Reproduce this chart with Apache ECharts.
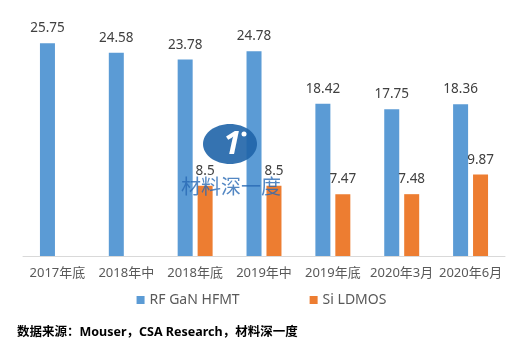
<!DOCTYPE html>
<html>
<head>
<meta charset="utf-8">
<script src="https://cdn.jsdelivr.net/npm/echarts@6/dist/echarts.min.js"></script>
<style>
html,body{margin:0;padding:0;background:#fff;}
#c{width:523px;height:350px;}
</style>
</head>
<body>
<div id="c"></div>
<script>
var categories = ['2017年底','2018年中','2018年底','2019年中','2019年底','2020年3月','2020年6月'];
var gan = [25.75, 24.58, 23.78, 24.78, 18.42, 17.75, 18.36];
var ldmos = [null, null, 8.5, 8.5, 7.47, 7.48, 9.87];
var seriesNames = ['RF GaN HFMT', 'Si LDMOS'];
var sourceText = '数据来源：Mouser，CSA Research，材料深一度';
var watermarkText = '材料深一度';

var FONT = '"Noto Sans", "Noto Sans CJK SC", sans-serif';
var chart = echarts.init(document.getElementById('c'), null, {renderer: 'canvas'});
var labelCfg = {show: true, position: 'top', distance: 8, color: '#404040', fontSize: 13.5, fontFamily: FONT};
chart.setOption({
  animation: false,
  backgroundColor: '#fff',
  grid: {left: 23, right: 18, top: 8, bottom: 94, containLabel: false},
  xAxis: {
    type: 'category', data: categories,
    axisLine: {lineStyle: {color: '#d9d9d9'}},
    axisTick: {show: false},
    axisLabel: {color: '#595959', fontSize: 13, fontFamily: FONT, margin: 11, interval: 0}
  },
  yAxis: {type: 'value', min: 0, max: 30, show: false, splitLine: {show: false}},
  legend: {
    data: seriesNames, left: 'center', top: 288,
    itemWidth: 8, itemHeight: 8, itemGap: 70, icon: 'rect',
    textStyle: {color: '#595959', fontSize: 14, fontFamily: FONT}
  },
  series: [
    {name: seriesNames[0], type: 'bar', data: gan, barWidth: 15, barGap: '33%',
     itemStyle: {color: '#5b9bd5'}, label: labelCfg},
    {name: seriesNames[1], type: 'bar', data: ldmos, barWidth: 15, barGap: '33%',
     itemStyle: {color: '#ed7d31'}, label: labelCfg}
  ],
  graphic: [
    {type: 'ellipse', shape: {cx: 230, cy: 144, rx: 27, ry: 20}, style: {fill: '#1f64a8', opacity: 0.9}, z: 100},
    {type: 'text', x: 232, y: 145, style: {text: '1', fill: '#fff', font: 'bold italic 32px "Noto Sans", sans-serif', align: 'center', verticalAlign: 'middle'}, z: 101},
    {type: 'circle', shape: {cx: 244, cy: 134, r: 2.5}, style: {fill: '#fff'}, z: 101},
    {type: 'text', x: 181, y: 186, style: {text: watermarkText, fill: 'rgba(40,105,180,0.8)', font: '20px "Noto Sans CJK SC", sans-serif', verticalAlign: 'middle'}, z: 100},
    {type: 'text', x: 17, y: 332, style: {text: sourceText, fill: '#000', font: 'bold 12.5px "Noto Sans", "Noto Sans CJK SC", sans-serif', verticalAlign: 'middle'}}
  ]
});
</script>
</body>
</html>
